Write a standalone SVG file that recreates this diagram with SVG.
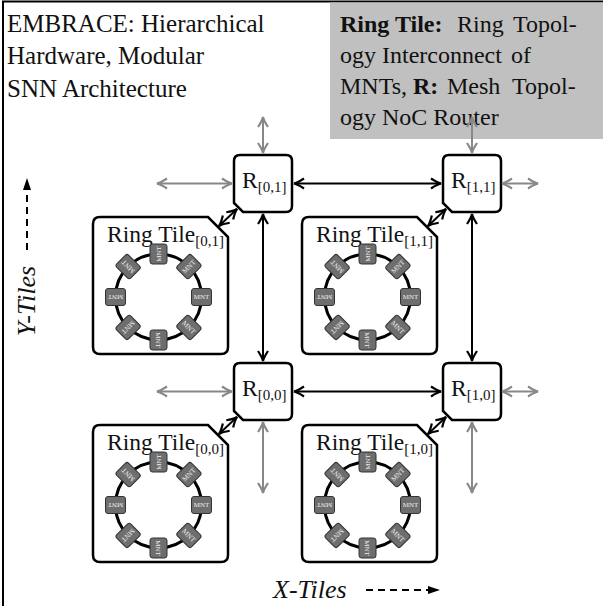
<svg xmlns="http://www.w3.org/2000/svg" xmlns:xlink="http://www.w3.org/1999/xlink" width="603" height="606" viewBox="0 0 603 606">
<style>
.t{font-family:"Liberation Serif","Times New Roman",serif;fill:#111}
.title{font-size:25px}
.note{font-size:24px}
.b{font-weight:bold}
.lbl{font-size:23.5px}
.sub{font-size:15px}
.ax{font-size:26px;font-style:italic}
.tile{fill:#fff;stroke:#000;stroke-width:2.5}
.router{fill:#fff;stroke:#000;stroke-width:2.5}
.ring{fill:none;stroke:#000;stroke-width:3}
.mnt rect{fill:#6e6e6e;stroke:#333;stroke-width:1}
.mnt text{font-family:"Liberation Serif",serif;font-size:7px;fill:#eee;text-anchor:middle}
.k{stroke:#000;stroke-width:2;fill:none}
.g{stroke:#888;stroke-width:2;fill:none}
.dash{stroke:#000;stroke-width:2;stroke-dasharray:7 5;fill:none}
</style>
<defs>
<marker id="mk" viewBox="-12 -7 14 14" refX="0" refY="0" markerWidth="14" markerHeight="14" markerUnits="userSpaceOnUse" orient="auto-start-reverse">
<path d="M-10,-5 Q-4,-1 0,0 Q-4,1 -10,5" fill="none" stroke="#000" stroke-width="2.2"/>
</marker>
<marker id="mg" viewBox="-12 -7 14 14" refX="0" refY="0" markerWidth="14" markerHeight="14" markerUnits="userSpaceOnUse" orient="auto-start-reverse">
<path d="M-10,-5 Q-4,-1 0,0 Q-4,1 -10,5" fill="none" stroke="#888" stroke-width="2.2"/>
</marker>
<path id="router-shape" class="router" d="M6,0 H52 Q58,0 58,6 V51 Q58,57 52,57 H9 L0,48 V6 Q0,0 6,0 Z"/>
<path id="tile-shape" class="tile" d="M7,0 H115 L135,20 V130 Q135,137 128,137 H7 Q0,137 0,130 V7 Q0,0 7,0 Z"/>
<g id="mnt" class="mnt"><rect x="-10" y="-8.5" width="20" height="17" rx="2.5"/><text x="0" y="2.4">MNT</text></g>
<g id="ring">
<circle class="ring" cx="65.5" cy="80" r="43"/>
<use xlink:href="#mnt" transform="translate(108.5,80) rotate(0)"/>
<use xlink:href="#mnt" transform="translate(95.9,110.4) rotate(45)"/>
<use xlink:href="#mnt" transform="translate(65.5,123) rotate(90)"/>
<use xlink:href="#mnt" transform="translate(35.1,110.4) rotate(135)"/>
<use xlink:href="#mnt" transform="translate(22.5,80) rotate(180)"/>
<use xlink:href="#mnt" transform="translate(35.1,49.6) rotate(225)"/>
<use xlink:href="#mnt" transform="translate(65.5,37) rotate(270)"/>
<use xlink:href="#mnt" transform="translate(95.9,49.6) rotate(315)"/>
</g>
</defs>

<rect x="0" y="0" width="603" height="606" fill="#fff"/>
<g id="frame"><path d="M3,606 V1.5 H603" fill="none" stroke="#000" stroke-width="2"/></g>

<g id="title"><text class="t title" x="7" y="32">EMBRACE: Hierarchical</text><text class="t title" x="7" y="64">Hardware, Modular</text><text class="t title" x="7" y="97">SNN Architecture</text></g>

<g id="legend">
<rect x="330" y="2.5" width="273" height="136.5" fill="#c0c0c0"/>
<text class="t note" y="32"><tspan class="b" x="340">Ring Tile:</tspan><tspan x="457">Ring</tspan><tspan x="513">Topol-</tspan></text>
<text class="t note" y="63"><tspan x="340">ogy</tspan><tspan x="382">Interconnect</tspan><tspan x="511">of</tspan></text>
<text class="t note" y="94"><tspan x="340">MNTs,</tspan><tspan class="b" x="413">R:</tspan><tspan x="447">Mesh</tspan><tspan x="512">Topol-</tspan></text>
<text class="t note" x="340" y="125">ogy NoC Router</text>
</g>

<g id="tile-0-1" transform="translate(93,217)"><use xlink:href="#tile-shape"/><text class="t lbl" x="14" y="25">Ring Tile<tspan class="sub" dy="4">[0,1]</tspan></text><use xlink:href="#ring"/></g>
<g id="tile-1-1" transform="translate(302,217)"><use xlink:href="#tile-shape"/><text class="t lbl" x="14" y="25">Ring Tile<tspan class="sub" dy="4">[1,1]</tspan></text><use xlink:href="#ring"/></g>
<g id="tile-0-0" transform="translate(93,425)"><use xlink:href="#tile-shape"/><text class="t lbl" x="14" y="25">Ring Tile<tspan class="sub" dy="4">[0,0]</tspan></text><use xlink:href="#ring"/></g>
<g id="tile-1-0" transform="translate(302,425)"><use xlink:href="#tile-shape"/><text class="t lbl" x="14" y="25">Ring Tile<tspan class="sub" dy="4">[1,0]</tspan></text><use xlink:href="#ring"/></g>

<g id="router-0-1" transform="translate(234,155)"><use xlink:href="#router-shape"/><text class="t lbl" x="8" y="33">R<tspan class="sub" dy="4">[0,1]</tspan></text></g>
<g id="router-1-1" transform="translate(443,155)"><use xlink:href="#router-shape"/><text class="t lbl" x="8" y="33">R<tspan class="sub" dy="4">[1,1]</tspan></text></g>
<g id="router-0-0" transform="translate(234,363)"><use xlink:href="#router-shape"/><text class="t lbl" x="8" y="33">R<tspan class="sub" dy="4">[0,0]</tspan></text></g>
<g id="router-1-0" transform="translate(443,363)"><use xlink:href="#router-shape"/><text class="t lbl" x="8" y="33">R<tspan class="sub" dy="4">[1,0]</tspan></text></g>

<g id="connectors">
<path class="k" d="M294,183.5 H441" marker-start="url(#mk)" marker-end="url(#mk)"/>
<path class="k" d="M294,391.5 H441" marker-start="url(#mk)" marker-end="url(#mk)"/>
<path class="k" d="M263,214 V361" marker-start="url(#mk)" marker-end="url(#mk)"/>
<path class="k" d="M472,214 V361" marker-start="url(#mk)" marker-end="url(#mk)"/>
<path class="k" d="M219,226 L237,209" marker-start="url(#mk)" marker-end="url(#mk)"/>
<path class="k" d="M428,226 L446,209" marker-start="url(#mk)" marker-end="url(#mk)"/>
<path class="k" d="M219,434 L237,417" marker-start="url(#mk)" marker-end="url(#mk)"/>
<path class="k" d="M428,434 L446,417" marker-start="url(#mk)" marker-end="url(#mk)"/>
<path class="g" d="M157,183.5 H232" marker-start="url(#mg)" marker-end="url(#mg)"/>
<path class="g" d="M157,391.5 H232" marker-start="url(#mg)" marker-end="url(#mg)"/>
<path class="g" d="M502,183.5 H538" marker-start="url(#mg)" marker-end="url(#mg)"/>
<path class="g" d="M502,391.5 H538" marker-start="url(#mg)" marker-end="url(#mg)"/>
<path class="g" d="M263,117 V153" marker-start="url(#mg)" marker-end="url(#mg)"/>
<path class="g" d="M472,117 V153" marker-start="url(#mg)" marker-end="url(#mg)"/>
<path class="g" d="M263,422 V493" marker-start="url(#mg)" marker-end="url(#mg)"/>
<path class="g" d="M472,422 V493" marker-start="url(#mg)" marker-end="url(#mg)"/>
</g>

<g id="y-axis">
<path class="dash" d="M27,250 V189"/>
<path d="M27,178 L31,190 L23,190 Z" fill="#000"/>
<text class="t ax" transform="translate(35,301) rotate(-90)" text-anchor="middle">Y-Tiles</text>
</g>
<g id="x-axis">
<path class="dash" d="M366,590 H428"/>
<path d="M440,590 L428,586 L428,594 Z" fill="#000"/>
<text class="t ax" x="273" y="598">X-Tiles</text>
</g>
</svg>
